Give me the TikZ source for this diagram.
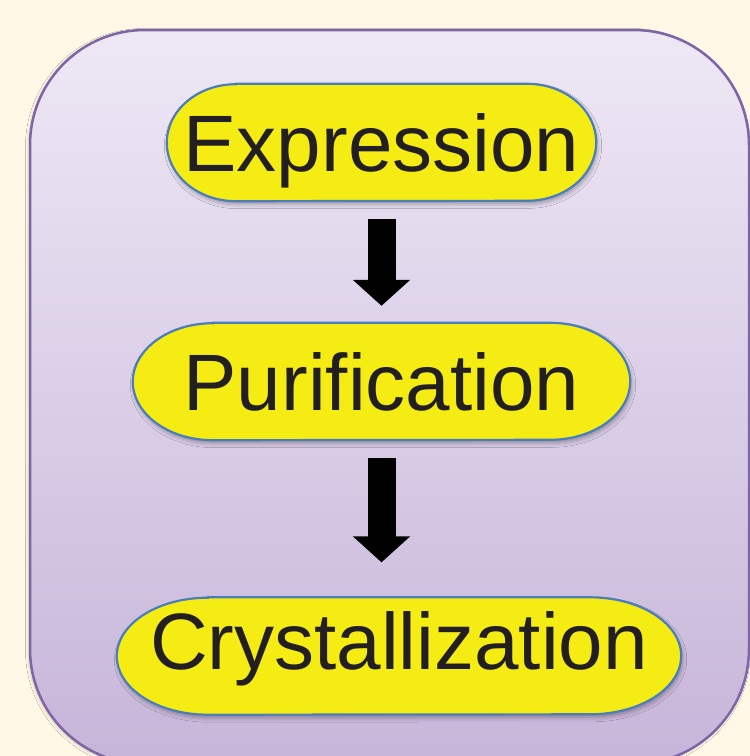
\documentclass[tikz,border=0pt]{standalone}
\usepackage{fontspec}
\setmainfont{Liberation Sans}
\usetikzlibrary{arrows.meta,positioning,shadows.blur,backgrounds,calc}
\definecolor{cream}{RGB}{255,248,230}
\definecolor{boxtop}{RGB}{238,232,245}
\definecolor{boxbot}{RGB}{199,181,217}
\definecolor{boxline}{RGB}{128,100,168}
\definecolor{pillfill}{RGB}{245,236,20}
\definecolor{pillline}{RGB}{74,126,187}
\definecolor{inktext}{RGB}{35,31,32}
\tikzset{
  stage/.style={rectangle,inner sep=0pt,minimum height=117pt,text height=57pt,text depth=0pt,
    text=inktext,font=\fontsize{80}{96}\selectfont},
  stagepill/.style={fill=pillfill,draw=pillline,line width=2.2pt,
    blur shadow={shadow xshift=1.5pt,shadow yshift=-3.5pt,shadow blur radius=4pt,shadow opacity=30}},
  flowarrow/.style={black,line width=28pt,line cap=butt,-{Triangle[length=26pt,width=56pt]}},
}
% pill with elliptical ends round a stage node
\newcommand{\pillpath}[2]{%
  \path[stagepill] ([xshift=#2pt]#1.north west) -- ([xshift=-#2pt]#1.north east)
    arc[start angle=90,end angle=-90,x radius=#2pt,y radius=58.5pt]
    -- ([xshift=#2pt]#1.south west)
    arc[start angle=270,end angle=90,x radius=#2pt,y radius=58.5pt] -- cycle;}

\begin{document}
\begin{tikzpicture}[x=1pt,y=1pt]
\useasboundingbox (0,0) rectangle (750,-756);
%
\node (expr) [stage,minimum width=429pt] at (381.5,-142.5) {Expression};
\node (puri) [stage,minimum width=497pt] at (381.5,-381.5) {Purification};
\node (crys) [stage,minimum width=564pt,text depth=30pt] at (399,-656) {Crystallization};
%
\begin{scope}[on background layer]
\fill[cream] (0,0) rectangle (750,-756);
\path[top color=boxtop,bottom color=boxbot,draw=boxline,line width=2.5pt,rounded corners=115pt,
  blur shadow={shadow xshift=-1.5pt,shadow yshift=-1.5pt,shadow blur radius=3pt,shadow opacity=18}]
  (30,-30) rectangle (749,-764);
\pillpath{expr}{69}
\pillpath{puri}{80}
\pillpath{crys}{91}
\end{scope}
%
\draw[flowarrow,shorten <=17.5pt,shorten >=17pt] (expr.south) -- (puri.north);
\draw[flowarrow,shorten <=18pt,shorten >=35pt] (puri.south) -- (puri.south |- crys.north);
\end{tikzpicture}
\end{document}
